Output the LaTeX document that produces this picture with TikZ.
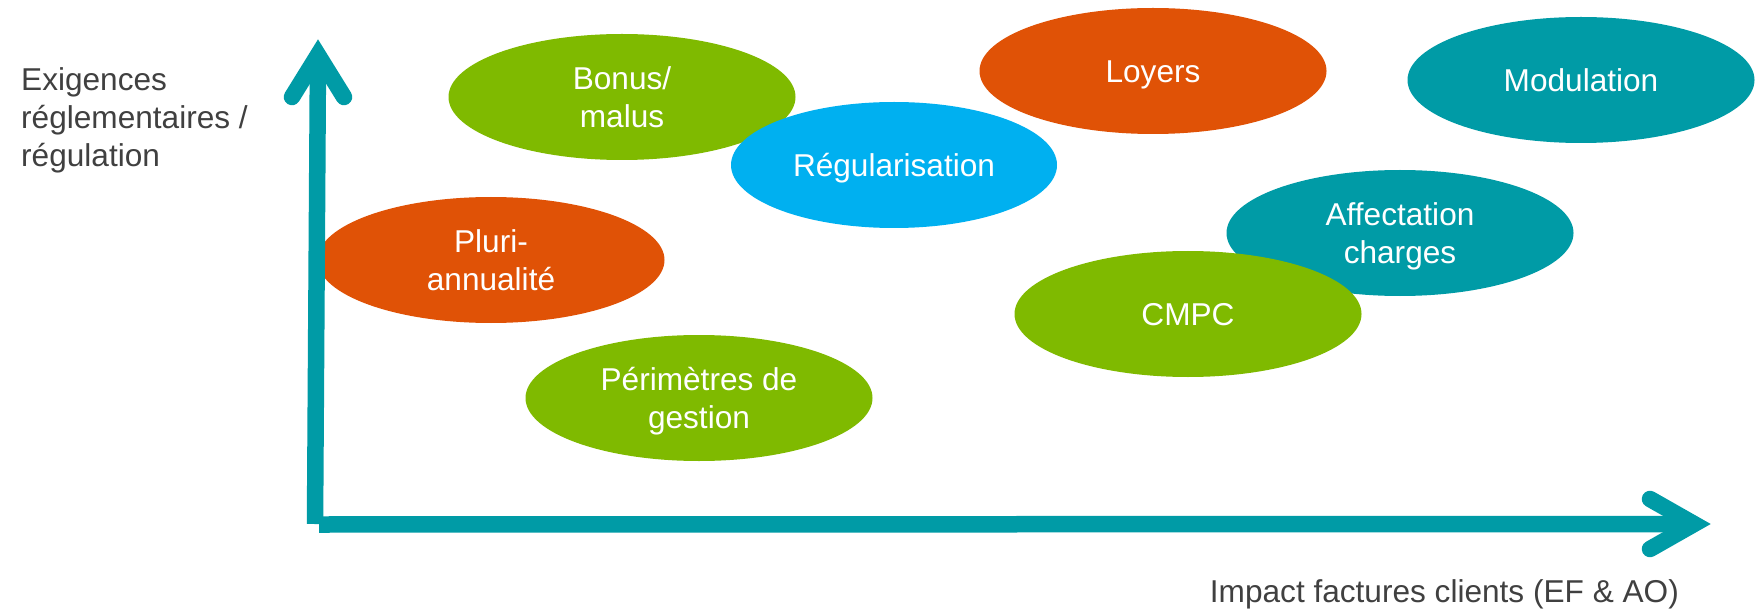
\documentclass[tikz,border=0pt]{standalone}
\usepackage{fontspec}
\setmainfont{Liberation Sans}
\usetikzlibrary{shapes.geometric}

\definecolor{leafgreen}{RGB}{127,186,0}
\definecolor{rustorange}{RGB}{224,82,6}
\definecolor{deepteal}{RGB}{0,155,166}
\definecolor{skyblue}{RGB}{0,176,240}
\definecolor{labelgray}{RGB}{64,64,64}

\newcommand{\capstrut}{\rule[-0.22em]{0pt}{1.156em}}

\tikzset{
    bubble/.style={ellipse, fill=#1, text=white, align=center,
        minimum width=347pt, minimum height=126pt, inner sep=0pt,
        execute at end node=\capstrut},
    axisline/.style={draw=deepteal, line width=16.5pt, line cap=butt},
    axishead/.style={draw=deepteal, line width=16.5pt, line cap=round, line join=miter},
    axislabel/.style={text=labelgray, inner sep=0pt}
}

\begin{document}
\begin{tikzpicture}[x=1pt, y=-1pt, font=\fontsize{31.6}{38}\selectfont]
    \useasboundingbox (0,0) rectangle (1755,612);

    \node[bubble=leafgreen] (bonus) at (622,97) {\capstrut Bonus/\\malus};
    \node[bubble=skyblue, minimum width=326pt] (regul) at (894,165) {Régularisation};
    \node[bubble=rustorange] (loyers) at (1153,71) {Loyers};
    \node[bubble=deepteal] (modul) at (1581,80) {Modulation};
    \node[bubble=deepteal] (affect) at (1400,233) {\capstrut Affectation\\charges};
    \node[bubble=leafgreen] (cmpc) at (1188,314) {CMPC};
    \node[bubble=rustorange] (pluri) at (491,260) {\capstrut Pluri-\\annualité};
    \node[bubble=leafgreen] (perim) at (699,398) {\capstrut Périmètres de\\gestion};

    % axes
    \coordinate (origin) at (315,524);
    \coordinate (xstart) at (319,524.5);
    \coordinate (ytip) at (318,55);
    \coordinate (yleft) at (292,97);
    \coordinate (yright) at (344,97);
    \coordinate (xtip) at (1694,524);
    \coordinate (xup) at (1650,499);
    \coordinate (xdown) at (1650,549);

    \draw[axisline] (origin) -- (ytip);
    \draw[axisline] (xstart) -- (xtip);
    \draw[axishead] (yleft) -- (ytip) -- (yright);
    \draw[axishead] (xup) -- (xtip) -- (xdown);

    \node[axislabel, anchor=north west, align=left] (ylabel) at (21,67.4)
        {Exigences\\réglementaires /\\régulation};
    \node[axislabel, anchor=base east] (xlabel) at (1679,602)
        {Impact factures clients (EF \& AO)};
\end{tikzpicture}
\end{document}
